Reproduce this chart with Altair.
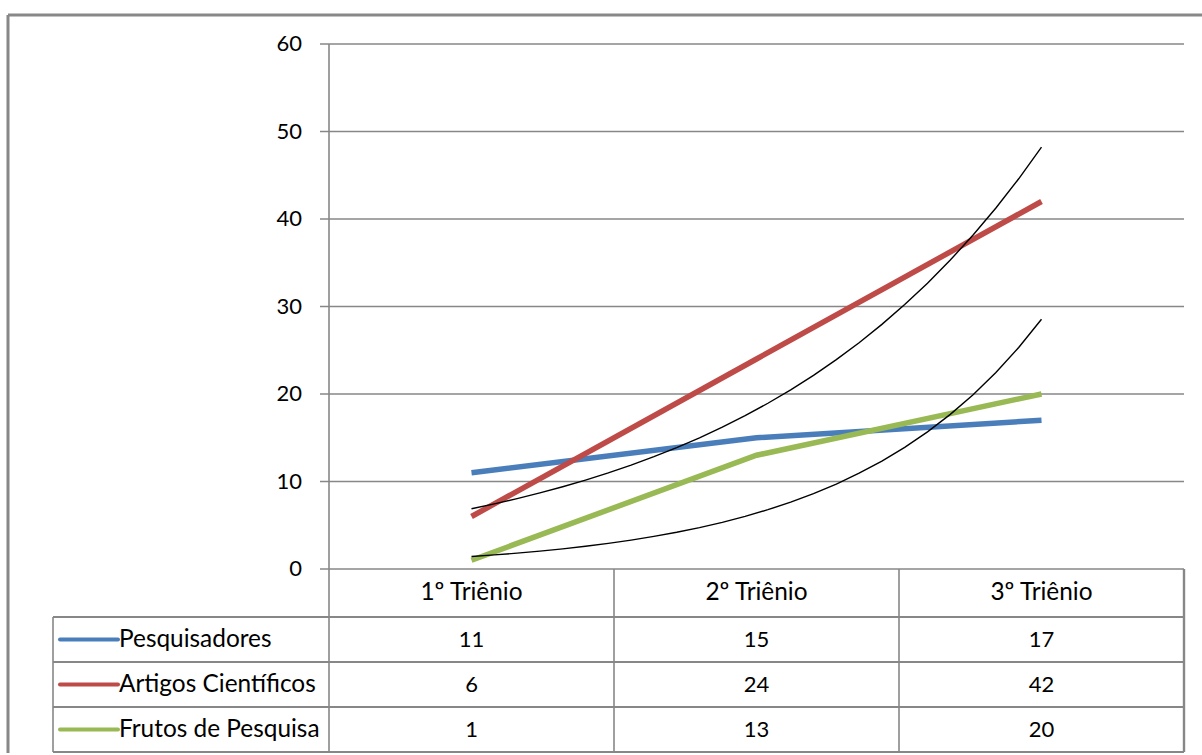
import altair as alt
import pandas as pd

# --- values -----------------------------------------------------------
categories = ["1º Triênio", "2º Triênio", "3º Triênio"]
series_names = ["Pesquisadores", "Artigos Científicos", "Frutos de Pesquisa"]
pesquisadores = [11, 15, 17]
artigos = [6, 24, 42]
frutos = [1, 13, 20]
series_colors = ["#4A7EBB", "#BE4B48", "#98B954"]
trend_series = ["Artigos Científicos", "Frutos de Pesquisa"]  # exponential trendlines
y_ticks = [0, 10, 20, 30, 40, 50, 60]

# --- layout (pixels) --------------------------------------------------
COL_W = 285.0       # width of one category column
LABEL_W = 276.0     # width of the series-name column of the data table
UNIT_PX = 8.75      # pixels per value unit
HEADER_H = 48.0     # category header row
ROW_H = 45.0        # data table rows
Y_MAX = 60
GRID = "#878787"
FONT = "Lato"
FS_NUM = 22         # numbers (axis and table cells)
FS_TXT = 24.4       # words (category header and series names)

n_rows = len(series_names)
PLOT_W = LABEL_W + COL_W * len(categories)
PLOT_H = Y_MAX * UNIT_PX + HEADER_H + ROW_H * n_rows

x_lo = 0.5 - LABEL_W / COL_W
x_hi = len(categories) + 0.5
y_lo = -(HEADER_H + ROW_H * n_rows) / UNIT_PX


def xs(px):
    """x position measured in pixels from the table's left edge."""
    return x_lo + px / COL_W


def ys(px):
    """y position measured in pixels below the zero line."""
    return -px / UNIT_PX


# --- data frames ------------------------------------------------------
values = {"Pesquisadores": pesquisadores,
          "Artigos Científicos": artigos,
          "Frutos de Pesquisa": frutos}
rows = []
for r, name in enumerate(series_names):
    for i, cat in enumerate(categories):
        rows.append({"serie": name, "idx": i + 1, "categoria": cat,
                     "valor": values[name][i],
                     "row_y": ys(HEADER_H + (r + 0.5) * ROW_H)})
df = pd.DataFrame(rows)

header = pd.DataFrame({"idx": list(range(1, len(categories) + 1)),
                       "categoria": categories,
                       "y": [ys(HEADER_H / 2)] * len(categories)})

legend_df = pd.DataFrame({"serie": series_names,
                          "x": [xs(7)] * n_rows,
                          "x2": [xs(65)] * n_rows,
                          "y": [ys(HEADER_H + (r + 0.5) * ROW_H) for r in range(n_rows)]})

ticks_df = pd.DataFrame({"t": y_ticks, "label": [str(t) for t in y_ticks],
                         "ax": [0.5] * len(y_ticks)})

# grid / table lines
lines = []
for t in y_ticks:
    lines.append({"x": 0.5 - 9 / COL_W, "x2": x_hi, "y": t, "y2": t, "w": 1.6})
lines.append({"x": 0.5, "x2": 0.5, "y": Y_MAX, "y2": y_lo, "w": 1.6})
for k in range(n_rows + 1):
    yy = ys(HEADER_H + k * ROW_H)
    lines.append({"x": x_lo, "x2": x_hi, "y": yy, "y2": yy, "w": 2.0})
lines.append({"x": x_lo, "x2": x_lo, "y": ys(HEADER_H), "y2": y_lo, "w": 1.6})
for c in range(1, len(categories) + 1):
    lines.append({"x": c + 0.5, "x2": c + 0.5, "y": 0, "y2": y_lo,
                  "w": 2.4 if c == len(categories) else 1.6})
lines_df = pd.DataFrame(lines)

# outer chart-area border (top and left edges)
frame_x = x_lo - 45 / COL_W
frame_y = Y_MAX + 29 / UNIT_PX
frame_df = pd.DataFrame([
    {"x": frame_x, "x2": x_hi + 40 / COL_W, "y": frame_y, "y2": frame_y},
    {"x": frame_x, "x2": frame_x, "y": frame_y, "y2": y_lo - 1 / UNIT_PX},
])

# --- scales -----------------------------------------------------------
X = alt.Scale(domain=[x_lo, x_hi], nice=False, zero=False)
Y = alt.Scale(domain=[y_lo, Y_MAX], nice=False, zero=False)
C = alt.Scale(domain=series_names, range=series_colors)

frame = alt.Chart(frame_df).mark_rule(color="#888888", strokeWidth=3).encode(
    x=alt.X("x:Q", scale=X, axis=None), x2="x2:Q",
    y=alt.Y("y:Q", scale=Y, axis=None), y2="y2:Q")

grid = alt.Chart(lines_df).mark_rule(color=GRID).encode(
    x=alt.X("x:Q", scale=X, axis=None), x2="x2:Q",
    y=alt.Y("y:Q", scale=Y, axis=None), y2="y2:Q",
    strokeWidth=alt.StrokeWidth("w:Q", scale=None, legend=None))

y_labels = alt.Chart(ticks_df).mark_text(
    align="right", baseline="middle", dx=-27, font=FONT, fontSize=FS_NUM, color="black"
).encode(x=alt.X("ax:Q", scale=X, axis=None), y=alt.Y("t:Q", scale=Y, axis=None),
         text="label:N")

header_text = alt.Chart(header).mark_text(
    align="center", baseline="middle", font=FONT, fontSize=FS_TXT, color="black"
).encode(x=alt.X("idx:Q", scale=X, axis=None), y=alt.Y("y:Q", scale=Y, axis=None),
         text="categoria:N")

cell_text = alt.Chart(df).mark_text(
    align="center", baseline="middle", font=FONT, fontSize=FS_NUM, color="black"
).encode(x=alt.X("idx:Q", scale=X, axis=None), y=alt.Y("row_y:Q", scale=Y, axis=None),
         text="valor:Q")

swatch = alt.Chart(legend_df).mark_rule(strokeWidth=4, strokeCap="round").encode(
    x=alt.X("x:Q", scale=X, axis=None), x2="x2:Q",
    y=alt.Y("y:Q", scale=Y, axis=None),
    color=alt.Color("serie:N", scale=C, legend=None))

legend_text = alt.Chart(legend_df).mark_text(
    align="left", baseline="middle", dx=1, font=FONT, fontSize=FS_TXT, color="black"
).encode(x=alt.X("x2:Q", scale=X, axis=None), y=alt.Y("y:Q", scale=Y, axis=None),
         text="serie:N")

series_lines = alt.Chart(df).mark_line(strokeWidth=5.5).encode(
    x=alt.X("idx:Q", scale=X, axis=None),
    y=alt.Y("valor:Q", scale=Y, axis=None),
    color=alt.Color("serie:N", scale=C, legend=None),
    order="idx:Q")

# exponential trendlines: least squares on ln(valor), back-transformed
trend = alt.Chart(df).transform_filter(
    alt.FieldOneOfPredicate(field="serie", oneOf=trend_series)
).transform_calculate(
    ln_valor="log(datum.valor)"
).transform_regression(
    "idx", "ln_valor", method="poly", order=1, groupby=["serie"], extent=[1, 3]
).transform_calculate(
    tendencia="exp(datum.ln_valor)"
).mark_line(color="black", strokeWidth=1.4).encode(
    x=alt.X("idx:Q", scale=X, axis=None),
    y=alt.Y("tendencia:Q", scale=Y, axis=None),
    detail="serie:N")

chart = alt.layer(
    frame, grid, y_labels, header_text, cell_text, swatch, legend_text,
    series_lines, trend
).properties(
    width=PLOT_W, height=PLOT_H,
    autosize=alt.AutoSizeParams(type="none"),
    padding={"left": 53, "top": 44, "right": 18, "bottom": 3},
    background="white",
).configure_view(strokeWidth=0)

chart.save("out.html", embed_options={"renderer": "svg", "actions": False})
